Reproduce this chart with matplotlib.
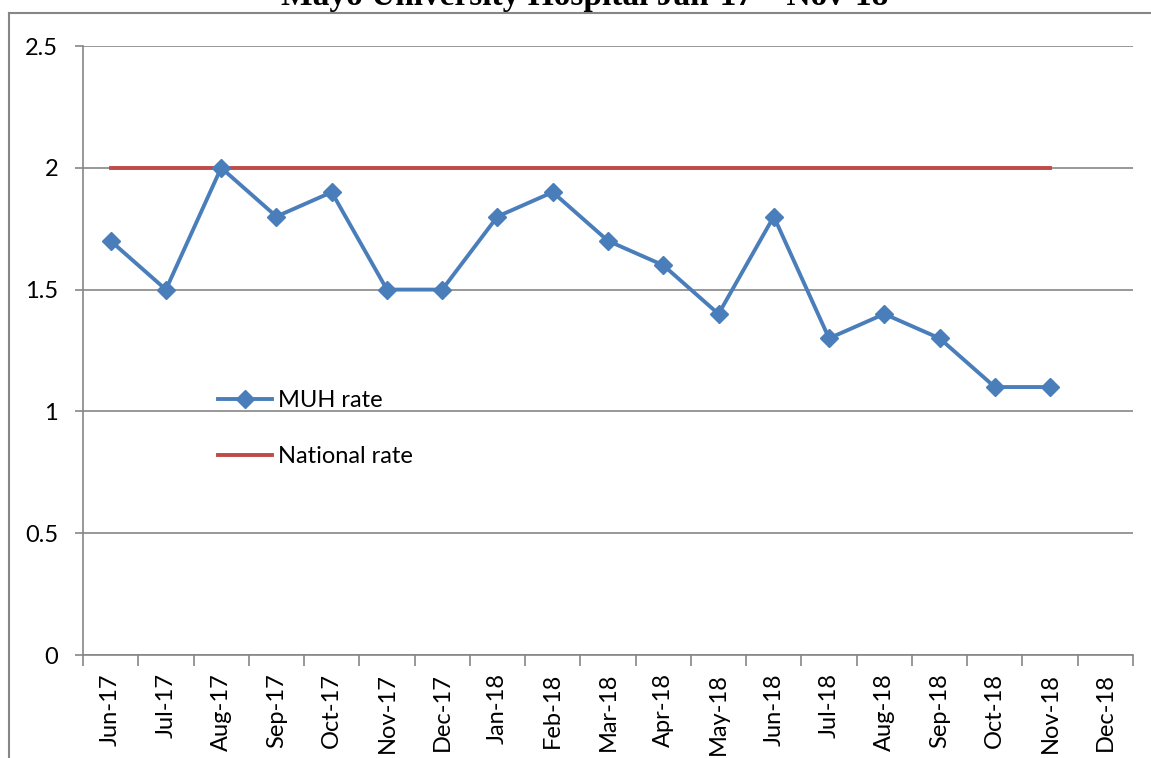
import numpy as np
import matplotlib.pyplot as plt
from matplotlib.lines import Line2D

# ==========================================
# 1. DATA
# ==========================================
months = ["Jun-17", "Jul-17", "Aug-17", "Sep-17", "Oct-17", "Nov-17", "Dec-17",
          "Jan-18", "Feb-18", "Mar-18", "Apr-18", "May-18", "Jun-18", "Jul-18",
          "Aug-18", "Sep-18", "Oct-18", "Nov-18", "Dec-18"]
muh_rate = [1.7, 1.5, 2.0, 1.8, 1.9, 1.5, 1.5, 1.8, 1.9, 1.7, 1.6, 1.4, 1.8,
            1.3, 1.4, 1.3, 1.1, 1.1]
national_rate = [2.0] * 18
y_ticks = [0, 0.5, 1, 1.5, 2, 2.5]
y_tick_labels = ["0", "0.5", "1", "1.5", "2", "2.5"]
title_text = "Mayo University Hospital Jan-17 \u2013 Nov-18"

# ==========================================
# 2. FIGURE AND AXES
# ==========================================
W, H = 1151, 758
fig = plt.figure(figsize=(W / 100, H / 100), dpi=100)
ax = fig.add_axes([83 / W, 1 - 655 / H, 1050 / W, 609 / H])

label_font = "Lato"
fs = 17
grey = "#868686"

x = np.arange(len(months))
ax.plot(x[:len(muh_rate)], muh_rate, color="#4a7ebb", lw=2.8, marker="D",
        markersize=9, label="MUH rate", zorder=3)
ax.plot(x[:len(national_rate)], national_rate, color="#be4b48", lw=2.8,
        label="National rate", zorder=2)

ax.set_xlim(-0.5, len(months) - 0.5)
ax.set_ylim(0, 2.5)

# y axis
ax.set_yticks(y_ticks)
ax.set_yticklabels(y_tick_labels, fontsize=fs, family=label_font)
ax.tick_params(axis="y", length=6, width=1.2, color=grey, pad=12)
ax.grid(True, axis="y", color=grey, lw=1.2, zorder=0)

# x axis: labels at centers, tick marks between categories
ax.set_xticks(x)
ax.set_xticklabels(months, rotation=90, fontsize=fs, family=label_font)
ax.tick_params(axis="x", which="major", length=0, pad=13)
ax.set_xticks(np.arange(-0.5, len(months)), minor=True)
ax.tick_params(axis="x", which="minor", length=8, width=1.2, color=grey)

for side in ["top", "right"]:
    ax.spines[side].set_visible(False)
for side in ["left", "bottom"]:
    ax.spines[side].set_color(grey)
    ax.spines[side].set_linewidth(1.2)

leg = ax.legend(loc="upper left", bbox_to_anchor=((218 - 83) / 1050, (655 - 390) / 609),
                frameon=False, borderpad=0, borderaxespad=0, handlelength=2.3,
                handletextpad=0.25, labelspacing=1.5,
                prop={"family": label_font, "size": fs})

# ==========================================
# 3. OUTER FRAME AND CLIPPED TITLE
# ==========================================
fig.add_artist(Line2D([8.5 / W, 8.5 / W], [0, 1 - 13 / H], color=grey, lw=1.5,
                      transform=fig.transFigure))
fig.add_artist(Line2D([8.5 / W, 1], [1 - 13 / H, 1 - 13 / H], color=grey, lw=1.5,
                      transform=fig.transFigure))
fig.text(585 / W, 1 - 4.5 / H, title_text, ha="center", va="baseline",
         fontsize=24, fontweight="bold", family="Liberation Serif")

fig.savefig("out.png", dpi=100)
